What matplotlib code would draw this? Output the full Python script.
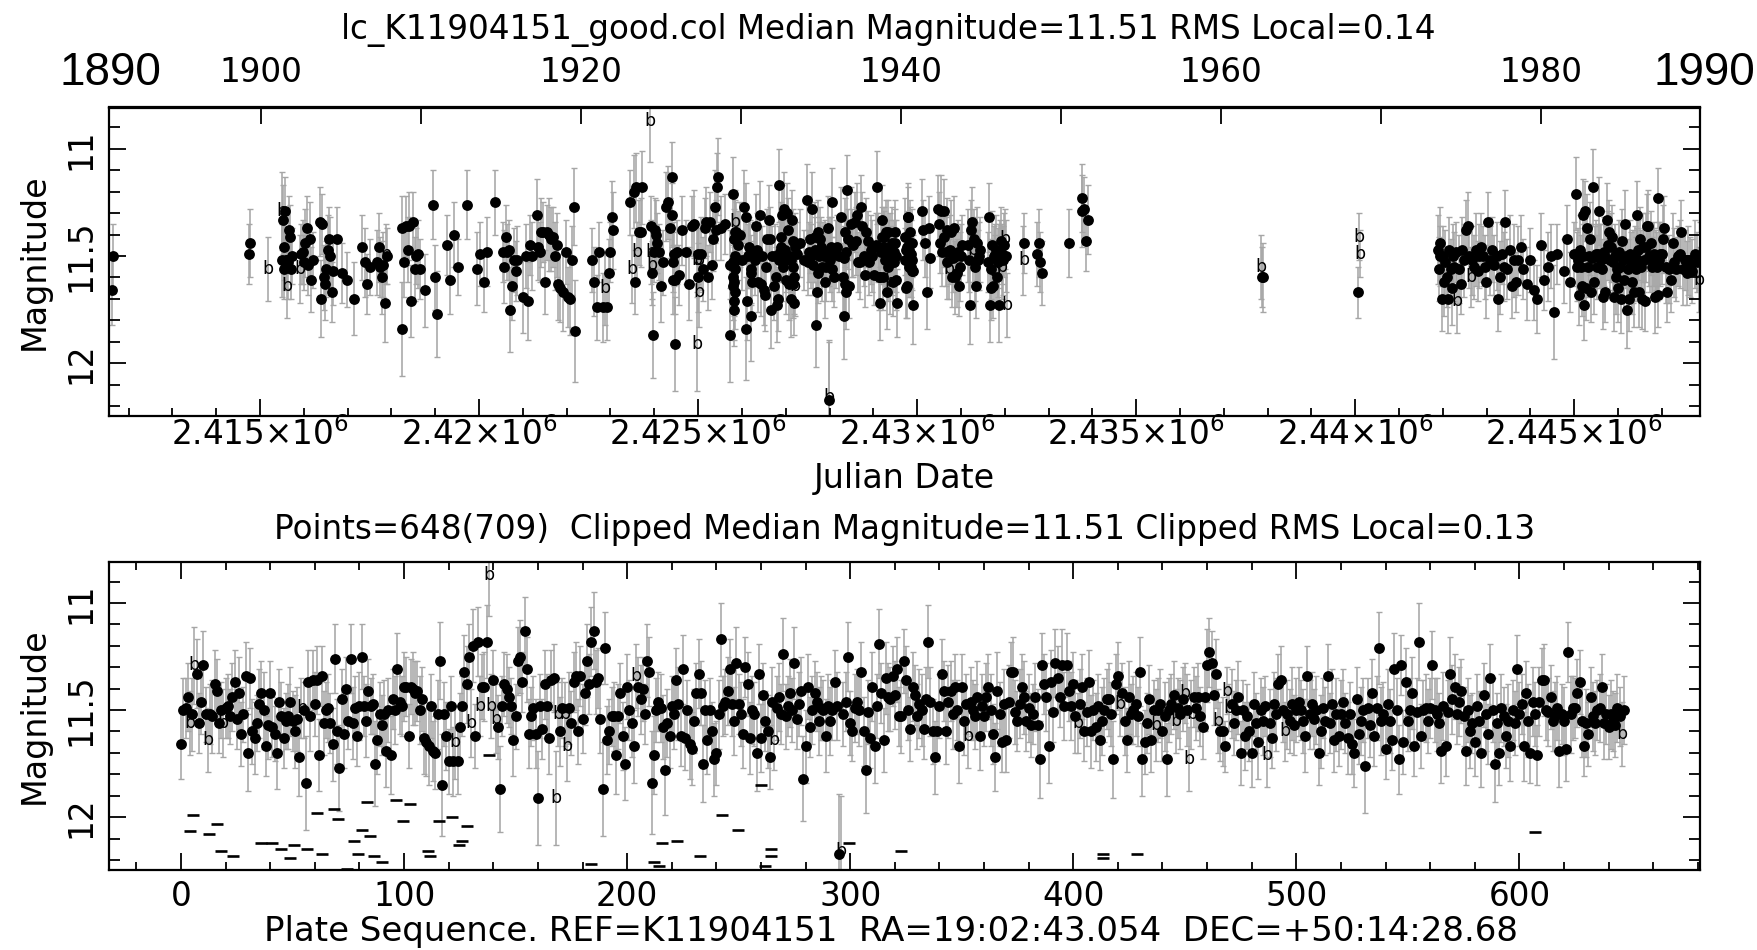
import numpy as np
import matplotlib
matplotlib.use("Agg")
import matplotlib.pyplot as plt
from matplotlib.ticker import FixedLocator, MultipleLocator, FuncFormatter, NullLocator

plt.rcParams['font.family'] = ['DejaVu Sans']

# ---------------- text ----------------
title_top = "lc_K11904151_good.col Median Magnitude=11.51 RMS Local=0.14"
title_bottom = "Points=648(709)  Clipped Median Magnitude=11.51 Clipped RMS Local=0.13"
xlabel_top = "Julian Date"
xlabel_bottom = "Plate Sequence. REF=K11904151  RA=19:02:43.054  DEC=+50:14:28.68"
ylabel = "Magnitude"
edge_years = ["1890", "1990"]
year_ticks = [1900, 1910, 1920, 1930, 1940, 1950, 1960, 1970, 1980]
year_labels = ["1900", "", "1920", "", "1940", "", "1960", "", "1980"]
jd_ticks = [2415000, 2420000, 2425000, 2430000, 2435000, 2440000, 2445000]
seq_ticks = [0, 100, 200, 300, 400, 500, 600]
mag_ticks = [11, 11.5, 12]

# ---------------- data ----------------
# Julian date of each plate minus 2410000 (in plate-sequence order)
jd_offset = [
    1624, 1644, 4758, 4778, 5186,
    5495, 5510, 5525, 5537, 5555, 5570, 5585, 5605, 5620, 5635, 5655, 5675, 5700, 5725,
    5915, 5945, 5975, 6005, 6035, 6065, 6105, 6140, 6175, 6215,
    6372, 6397, 6422, 6452, 6482, 6512, 6542, 6572, 6602, 6632, 6662, 6762, 6862, 6982,
    7136,
    7327, 7392, 7452, 7519,
    7672, 7707, 7742, 7777, 7812, 7852, 7882, 7902,
    8230,
    8247, 8287, 8327, 8367, 8407, 8447, 8487, 8527, 8567, 8607, 8650, 8764,
    8956,
    8997, 9032,
    9262, 9347, 9437, 9530,
    9721,
    9951, 10027, 10107, 10180,
    10371,
    10550, 10575, 10605, 10635, 10675, 10715, 10755, 10795, 10835, 10856, 11009, 11065, 11115, 11165, 11200,
    11315,
    11345, 11385, 11425, 11465, 11505, 11545, 11585, 11635, 11685, 11735, 11773, 11812, 11855, 11915, 11975, 12035, 12085,
    12125, 12156, 12194,
    12568, 12627,
    12683, 12747, 12827, 12874, 12912,
    12957, 12997, 13027, 13065,
    13448, 13487, 13527, 13557, 13577, 13607, 13647, 13687, 13715,
    13907,
    13917, 13927, 13942, 13957, 13977, 13997, 14017, 14037, 14060, 14107, 14157, 14207, 14257, 14307, 14357,
    14393,
    14407, 14422, 14437, 14452, 14462,
    14470,
    14508, 14567, 14637, 14717, 14797, 14867, 14917,
    14967,
    14982, 14997, 15007, 15017,
    15028,
    15067, 15107, 15147, 15187, 15227, 15267, 15307, 15347, 15387, 15417,
    15435, 15447,
    15517, 15617, 15717,
    15732,
    15793,
    15797, 15803, 15806, 15811, 15813, 15818, 15822, 15826, 15829, 15833, 15838, 15840, 15843,
    15847,
    15867, 15907, 15957, 16007, 16047, 16087,
    16099,
    16117, 16137, 16157, 16177, 16197,
    16206,
    16215, 16240, 16268, 16297, 16322, 16347, 16377, 16407, 16437, 16467, 16497, 16527,
    16552, 16577, 16607, 16637, 16667, 16697, 16727, 16757, 16787, 16807, 16827, 16847,
    16854,
    16867, 16882, 16897, 16912, 16927, 16942, 16957, 16977, 16997, 17017, 17037, 17057,
    17077, 17097, 17112, 17127, 17142, 17157, 17167, 17177, 17187, 17197, 17207,
    17213,
    17257, 17327, 17407,
    17481,
    17507, 17532, 17557, 17582, 17607, 17632, 17657, 17677,
    17695,
    17707, 17727, 17747, 17767, 17787, 17807, 17827, 17847, 17867, 17887, 17907, 17927, 17947, 17962, 17977,
    17993, 17997,
    18017, 18037,
    18047,
    18060, 18100, 18140, 18180, 18220, 18260, 18300,
    18330,
    18340, 18350, 18360, 18370, 18380,
    18391,
    18420, 18450, 18480, 18510, 18540, 18570, 18600, 18630, 18660, 18690, 18720,
    18750, 18780, 18810, 18840, 18870, 18900, 18940, 18980, 19020, 19050,
    19080,
    19100, 19130, 19156,
    19162, 19177, 19192, 19207, 19222, 19237, 19252, 19267, 19282, 19297, 19312, 19327, 19342, 19357,
    19372, 19387, 19402, 19417, 19432, 19447, 19462, 19477, 19492, 19502, 19512, 19522, 19530,
    19722, 19732, 19742, 19752, 19762, 19772, 19782, 19792, 19802, 19812,
    19822, 19832, 19842, 19852, 19862, 19872, 19882, 19892, 19902, 19913,
    20104, 20142, 20182, 20222, 20262, 20295,
    20486, 20507, 20532, 20552, 20577, 20602, 20622, 20647, 20672, 20692, 20717, 20742,
    20762, 20787, 20812, 20832, 20857, 20882, 20902, 20927, 20952, 20972, 20997, 21022,
    21164, 21182, 21202, 21227, 21247, 21272, 21292, 21317, 21337, 21362, 21382, 21407, 21432,
    21623, 21642, 21657, 21677, 21692, 21712, 21732, 21747, 21767, 21782, 21802, 21822,
    21837, 21857, 21872, 21892, 21912, 21927, 21947, 21962, 21982, 22002, 22022, 22044,
    22426, 22442,
    22732, 22772, 22802, 22847,
    23458,
    23764,
    23772, 23812, 23862, 23907,
    27853, 27871, 27883,
    30062, 30082, 30102,
    31889, 31905, 31925, 31945, 31970, 31995, 32025, 32055, 32085, 32115,
    32145, 32175, 32205, 32235, 32265, 32295, 32325, 32365, 32405, 32445,
    32485, 32525, 32565, 32605, 32645, 32675, 32715, 32755, 32795, 32835,
    32875, 32915, 32955, 32995, 33035, 33074, 33125, 33175, 33225, 33265,
    33305, 33345, 33385, 33425, 33475, 33525, 33575, 33625, 33675, 33725,
    33785, 33839, 33925, 33992, 34075, 34155, 34235, 34315, 34395, 34475,
    34545, 34603, 34756, 34825, 34905, 34986,
    35049, 35067, 35087, 35107, 35127, 35147, 35167, 35187, 35207, 35227,
    35247, 35267, 35287, 35307, 35332, 35357, 35382, 35407, 35432,
    35452, 35474, 35497, 35517, 35542, 35564, 35587, 35610, 35632, 35654,
    35677, 35700, 35722, 35744, 35767, 35790, 35812, 35834, 35857, 35880,
    35902, 35924, 35947, 35970, 35992, 36014, 36037, 36060, 36082, 36104,
    36127, 36150, 36172, 36194, 36217, 36240, 36262, 36284, 36307, 36330,
    36352, 36374, 36397, 36420, 36442, 36464, 36487, 36510, 36532, 36554,
    36577, 36600, 36622, 36644, 36667, 36690, 36712, 36734, 36757, 36780,
    36800, 36821, 36843, 36866, 36887, 36902, 36917,
    36935, 36965, 36995, 37025, 37055, 37095, 37125, 37165, 37205, 37245,
    37285, 37325, 37365, 37405, 37445, 37485, 37525, 37565, 37605, 37645,
    37695, 37745, 37795, 37835, 37860,
]

magnitude = [
    11.66, 11.50, 11.49, 11.44, 11.56, 11.52, 11.29, 11.33, 11.56, 11.46,
    11.29, 11.52, 11.64, 11.52, 11.53, 11.38, 11.41, 11.56, 11.50, 11.56,
    11.49, 11.48, 11.53, 11.44, 11.37, 11.54, 11.42, 11.61, 11.52, 11.34,
    11.70, 11.35, 11.60, 11.63, 11.56, 11.47, 11.42, 11.50, 11.67, 11.57,
    11.42, 11.58, 11.61, 11.70, 11.46, 11.53, 11.63, 11.55, 11.53, 11.46,
    11.55, 11.60, 11.54, 11.72, 11.49, 11.50, 11.84, 11.37, 11.53, 11.36,
    11.47, 11.36, 11.71, 11.34, 11.56, 11.50, 11.49, 11.56, 11.66, 11.26,
    11.60, 11.77, 11.45, 11.61, 11.40, 11.55, 11.26, 11.56, 11.49, 11.62,
    11.48, 11.25, 11.48, 11.55, 11.41, 11.48, 11.47, 11.75, 11.64, 11.52,
    11.57, 11.52, 11.69, 11.50, 11.71, 11.45, 11.50, 11.31, 11.46, 11.48,
    11.39, 11.39, 11.62, 11.39, 11.40, 11.42, 11.41, 11.50, 11.45, 11.63,
    11.65, 11.67, 11.48, 11.69, 11.70, 11.52, 11.27, 11.85, 11.52, 11.62,
    11.74, 11.48, 11.74, 11.65, 11.74, 11.58, 11.48, 11.32, 11.38, 11.25,
    11.56, 11.20, 11.62, 11.18, 11.48, 11.39, 11.39, 11.18, 10.87, 11.48,
    11.36, 11.54, 11.58, 11.87, 11.48, 11.38, 11.40, 11.44, 11.48, 11.64,
    11.53, 11.27, 11.25, 11.37, 11.13, 11.31, 11.61, 11.53, 11.49, 11.61,
    11.91, 11.48, 11.59, 11.38, 11.48, 11.63, 11.36, 11.35, 11.91, 11.52,
    11.60, 11.49, 11.52, 11.67, 11.49, 11.56, 11.37, 11.34, 11.60, 11.34,
    11.54, 11.42, 11.27, 11.38, 11.18, 11.13, 11.37, 11.35, 11.54, 11.87,
    11.21, 11.64, 11.60, 11.53, 11.53, 11.71, 11.53, 11.42, 11.62, 11.75,
    11.39, 11.50, 11.56, 11.67, 11.34, 11.39, 11.45, 11.40, 11.52, 11.27,
    11.32, 11.84, 11.71, 11.50, 11.46, 11.49, 11.58, 11.78, 11.56, 11.62,
    11.48, 11.52, 11.36, 11.47, 11.62, 11.31, 11.63, 11.50, 11.66, 11.68,
    11.55, 11.42, 11.33, 11.42, 11.75, 11.50, 11.64, 11.50, 11.60, 11.73,
    11.70, 11.52, 11.17, 11.48, 11.46, 11.41, 11.31, 11.47, 11.55, 11.28,
    11.47, 11.52, 11.61, 11.30, 11.38, 11.63, 11.50, 11.52, 11.70, 11.33,
    11.63, 11.43, 11.55, 11.60, 11.72, 11.46, 11.64, 11.49, 11.44, 11.52,
    11.24, 11.53, 11.48, 11.42, 11.50, 11.28, 11.54, 11.47, 11.41, 11.82,
    11.67, 11.39, 11.58, 11.50, 11.42, 11.46, 11.55, 11.49, 11.50, 11.62,
    11.48, 11.55, 11.50, 11.37, 11.48, 12.17, 12.16, 11.52, 11.46, 11.25,
    11.56, 11.60, 11.49, 11.46, 11.50, 11.32, 11.60, 11.78, 11.51, 11.63,
    11.39, 11.67, 11.48, 11.19, 11.42, 11.64, 11.35, 11.44, 11.45, 11.34,
    11.43, 11.31, 11.53, 11.53, 11.27, 11.36, 11.50, 11.59, 11.39, 11.43,
    11.53, 11.47, 11.50, 11.59, 11.45, 11.18, 11.46, 11.60, 11.72, 11.60,
    11.48, 11.33, 11.41, 11.60, 11.46, 11.41, 11.52, 11.39, 11.50, 11.67,
    11.39, 11.55, 11.47, 11.62, 11.46, 11.50, 11.53, 11.44, 11.62, 11.48,
    11.53, 11.44, 11.39, 11.50, 11.61, 11.72, 11.41, 11.52, 11.65, 11.47,
    11.64, 11.46, 11.32, 11.32, 11.51, 11.55, 11.47, 11.39, 11.44, 11.55,
    11.49, 11.57, 11.52, 11.44, 11.57, 11.73, 11.29, 11.38, 11.44, 11.67,
    11.37, 11.51, 11.28, 11.35, 11.44, 11.29, 11.48, 11.29, 11.41, 11.48,
    11.38, 11.53, 11.56, 11.47, 11.39, 11.60, 11.51, 11.37, 11.60, 11.50,
    11.58, 11.48, 11.64, 11.55, 11.50, 11.45, 11.45, 11.52, 11.73, 11.38,
    11.34, 11.47, 11.42, 11.55, 11.64, 11.44, 11.52, 11.50, 11.47, 11.53,
    11.32, 11.73, 11.65, 11.56, 11.45, 11.64, 11.50, 11.57, 11.50, 11.47,
    11.60, 11.53, 11.73, 11.50, 11.47, 11.43, 11.55, 11.49, 11.52, 11.45,
    11.42, 11.50, 11.73, 11.52, 11.44, 11.49, 11.44, 11.53, 11.58, 11.44,
    11.29, 11.23, 11.28, 11.43, 11.33, 11.55, 11.60, 11.60, 11.67, 11.41,
    11.49, 11.47, 11.56, 11.50, 11.44, 11.70, 11.50, 11.62, 11.53, 11.60,
    11.70, 11.47, 11.56, 11.65, 11.50, 11.55, 11.48, 11.71, 11.56, 11.63,
    11.47, 11.52, 11.38, 11.36, 11.50, 11.60, 11.52, 11.55, 11.47, 11.57,
    11.50, 11.46, 11.50, 11.55, 11.62, 11.34, 11.52, 11.47, 11.54, 11.50,
    11.70, 11.60, 11.49, 11.55, 11.34, 11.56, 11.47, 11.64, 11.52, 11.62,
    11.52, 11.46, 11.56, 11.63, 11.52, 11.66, 11.70, 11.45, 11.61, 11.55,
    11.50, 11.76, 11.49, 11.57, 11.42, 11.62, 11.49, 11.21, 11.55, 11.52,
    11.68, 11.47, 11.55, 11.64, 11.31, 11.50, 11.73, 11.29, 11.65, 11.37,
    11.55, 11.50, 11.42, 11.67, 11.51, 11.18, 11.62, 11.50, 11.49, 11.55,
    11.49, 11.29, 11.50, 11.52, 11.56, 11.69, 11.48, 11.67, 11.51, 11.33,
    11.45, 11.39, 11.52, 11.46, 11.41, 11.53, 11.69, 11.50, 11.60, 11.56,
    11.65, 11.48, 11.55, 11.70, 11.43, 11.52, 11.61, 11.35, 11.50, 11.75,
    11.56, 11.70, 11.49, 11.53, 11.62, 11.55, 11.67, 11.50, 11.56, 11.31,
    11.52, 11.47, 11.67, 11.42, 11.55, 11.70, 11.46, 11.52, 11.71, 11.46,
    11.36, 11.36, 11.50, 11.51, 11.44, 11.55, 11.53, 11.49, 11.69, 11.52,
    11.55, 11.68, 11.23, 11.52, 11.49, 11.49, 11.42, 11.37, 11.55, 11.67,
    11.56, 11.61, 11.44, 11.53, 11.56, 11.50, 11.49, 11.39, 11.56, 11.52,
    11.58, 11.52, 11.55, 11.57, 11.49, 11.53, 11.61, 11.50,
]

# magnitude errors in hundredths of a magnitude
err_centi = [
    16, 15, 14, 16, 15, 17, 18, 16, 14, 15, 16, 13, 15, 14, 17, 16, 15, 14, 13, 16,
    14, 15, 13, 16, 15, 14, 17, 15, 13, 16, 18, 14, 15, 17, 13, 16, 15, 18, 14, 16,
    15, 14, 13, 17, 15, 16, 14, 13, 15, 16, 14, 17, 15, 18, 14, 13, 22, 15, 16, 14,
    15, 16, 17, 14, 15, 13, 16, 14, 17, 16, 15, 20, 14, 16, 15, 13, 16, 17, 15, 14,
    16, 15, 14, 17, 15, 13, 14, 20, 16, 15, 14, 16, 17, 15, 18, 14, 16, 17, 15, 14,
    16, 14, 15, 13, 17, 15, 14, 16, 15, 17, 16, 18, 15, 14, 17, 16, 18, 24, 15, 16,
    15, 14, 16, 17, 15, 16, 14, 17, 18, 15, 16, 17, 15, 16, 14, 15, 16, 17, 19, 15,
    14, 16, 15, 20, 14, 15, 16, 14, 13, 17, 15, 16, 17, 14, 16, 15, 16, 14, 15, 16,
    22, 15, 14, 16, 15, 17, 14, 16, 22, 15, 16, 14, 15, 16, 17, 15, 14, 16, 15, 14,
    16, 15, 17, 14, 16, 18, 15, 14, 16, 22, 17, 16, 15, 14, 16, 18, 15, 14, 16, 17,
    15, 14, 16, 17, 15, 14, 16, 15, 14, 17, 16, 24, 18, 15, 14, 16, 15, 21, 16, 15,
    14, 16, 15, 17, 14, 16, 15, 14, 16, 17, 15, 14, 16, 15, 18, 14, 16, 15, 14, 17,
    15, 16, 17, 14, 15, 16, 14, 15, 16, 17, 14, 15, 16, 14, 15, 17, 16, 15, 18, 14,
    16, 15, 14, 17, 15, 16, 14, 15, 16, 14, 17, 15, 14, 16, 15, 17, 14, 15, 16, 20,
    17, 15, 14, 16, 15, 14, 16, 15, 14, 17, 15, 16, 14, 15, 16, 28, 26, 15, 14, 16,
    15, 14, 16, 15, 17, 14, 16, 20, 15, 14, 16, 17, 15, 16, 14, 15, 17, 16, 15, 14,
    16, 15, 14, 17, 15, 16, 14, 15, 16, 14, 15, 16, 17, 14, 15, 17, 16, 15, 17, 14,
    15, 16, 14, 15, 17, 14, 16, 15, 14, 17, 15, 16, 14, 15, 16, 14, 15, 17, 16, 15,
    14, 16, 15, 17, 14, 16, 18, 15, 14, 16, 15, 17, 14, 16, 15, 14, 16, 15, 17, 14,
    16, 15, 14, 16, 17, 18, 15, 14, 16, 17, 15, 14, 16, 15, 14, 17, 16, 15, 14, 16,
    15, 17, 14, 16, 15, 14, 16, 15, 17, 14, 16, 15, 14, 16, 15, 14, 17, 15, 18, 14,
    16, 15, 14, 16, 15, 17, 14, 16, 15, 14, 16, 17, 15, 14, 16, 15, 14, 17, 15, 16,
    14, 16, 17, 15, 14, 16, 15, 14, 16, 15, 14, 17, 15, 16, 14, 15, 16, 14, 15, 16,
    17, 16, 15, 14, 16, 15, 14, 16, 12, 11, 11, 16, 15, 14, 17, 15, 14, 16, 15, 14,
    16, 15, 14, 17, 15, 16, 14, 15, 16, 14, 15, 17, 14, 16, 15, 14, 16, 15, 17, 14,
    15, 16, 14, 15, 17, 14, 16, 15, 14, 16, 15, 17, 14, 16, 15, 14, 16, 15, 17, 14,
    16, 15, 14, 17, 15, 14, 16, 15, 14, 16, 15, 22, 14, 15, 16, 14, 15, 17, 16, 15,
    14, 16, 15, 14, 17, 15, 16, 14, 15, 16, 14, 15, 17, 14, 16, 18, 15, 14, 16, 15,
    14, 16, 15, 17, 14, 15, 16, 14, 15, 17, 16, 15, 14, 16, 15, 14, 16, 15, 17, 14,
    16, 15, 14, 16, 15, 17, 14, 16, 15, 18, 14, 15, 16, 14, 15, 17, 16, 14, 15, 16,
    15, 14, 16, 15, 17, 14, 16, 15, 14, 16, 15, 17, 14, 16, 15, 14, 16, 15, 17, 14,
    16, 15, 14, 18, 15, 14, 16, 15, 17, 14, 16, 15, 14, 16, 15, 14, 16, 15, 17, 14,
    15, 16, 14, 15, 16, 14, 15, 16,
]

# plates flagged "b" (drawn as the letter b instead of a dot)
b_points = [4, 6, 12, 19, 54, 123, 130, 134, 138, 139, 141, 168, 169, 172, 173, 204,
            266, 296, 353, 402, 421, 437, 446, 450, 452, 453, 465, 469, 470, 487, 495, 646]

# rejected plates (short dashes) in the plate-sequence panel
dash_seq = [4, 5.5, 12.5, 16, 18, 23.5, 36, 41, 45, 49,
            50.5, 56.5, 61, 63, 68.5, 70.5, 74.5, 77.5, 79.5, 81,
            83.5, 84.5, 86.5, 90, 96.5, 99.5, 102.5, 110.5, 111.5, 115.5,
            121.5, 124.5, 126, 128, 138, 184, 212, 214.5, 215.5, 222.5,
            232.5, 242.5, 249.5, 260, 262, 264.5, 264.5, 299.5, 323, 413.5,
            413.5, 428.5, 607]
dash_mag = [12.065, 11.99, 12.08, 12.03, 12.16, 12.18, 12.12, 12.12, 12.15, 12.19,
            12.13, 12.15, 11.98, 12.17, 11.96, 12.01, 12.24, 12.11, 12.17, 12.06,
            11.93, 12.09, 12.18, 12.21, 11.92, 12.02, 11.94, 12.16, 12.18, 12.02,
            12.00, 12.13, 12.11, 12.04, 11.71, 12.22, 12.21, 12.23, 12.12, 12.11,
            12.18, 11.99, 12.06, 11.85, 12.23, 12.15, 12.18, 12.12, 12.16, 12.17,
            12.19, 12.17, 12.07]

n = len(magnitude)
assert len(jd_offset) == n, ("jd", len(jd_offset), n)
assert len(err_centi) == n, ("err", len(err_centi), n)

jd = 2410000.0 + np.array(jd_offset, float)
mag = np.array(magnitude, float)
err = np.array(err_centi, float) / 100.0
seq = np.arange(n)
isb = np.zeros(n, bool)
isb[b_points] = True

# ---------------- figure ----------------
W, H = 1758, 950
fig = plt.figure(figsize=(W / 100, H / 100), dpi=100)
L, R = 109, 1700
ax1 = fig.add_axes([L / W, 1 - 416 / H, (R - L) / W, (416 - 107.5) / H])
ax2 = fig.add_axes([L / W, 1 - 870 / H, (R - L) / W, (870 - 561.7) / H])

ERRC = '#a6a6a6'


def draw(ax, x):
    ax.errorbar(x, mag, yerr=err, fmt='none', ecolor=ERRC, elinewidth=1.15,
                capsize=2.3, capthick=1.0, zorder=1)
    ax.plot(x[~isb], mag[~isb], 'o', color='black', ms=7.8, mew=0, zorder=3)
    for xi, yi in zip(x[isb], mag[isb]):
        ax.text(xi, yi, 'b', ha='center', va='center', fontsize=12.5,
                color='black', zorder=4)


draw(ax1, jd)
draw(ax2, seq.astype(float))
ax2.plot(dash_seq, dash_mag, '_', color='black', ms=8.5, mew=1.9, zorder=3)

TICKFS = 23.5
ylim = (12.247, 10.807)
for ax in (ax1, ax2):
    ax.set_ylim(*ylim)
    ax.yaxis.set_major_locator(FixedLocator(mag_ticks))
    ax.yaxis.set_minor_locator(MultipleLocator(0.1))
    ax.yaxis.set_major_formatter(FuncFormatter(lambda v, p: ('%g' % v)))
    for s in ax.spines.values():
        s.set_linewidth(1.6)
    ax.tick_params(axis='y', which='major', direction='in', length=12.5, width=1.3,
                   left=True, right=True, labelsize=TICKFS, pad=8)
    ax.tick_params(axis='y', which='minor', direction='in', length=8, width=1.3,
                   left=True, right=True)
    for lab in ax.get_yticklabels():
        lab.set_rotation(90)
        lab.set_va('center')

# top panel: Julian date axis
ax1.set_xlim(2411553, 2447869)
ax1.xaxis.set_major_locator(FixedLocator(jd_ticks))
ax1.xaxis.set_minor_locator(MultipleLocator(1000))


def jdfmt(v, p):
    s = ('%.3f' % (v / 1e6)).rstrip('0')
    return r'$\mathregular{%s{\times}10^{6}}$' % s


ax1.xaxis.set_major_formatter(FuncFormatter(jdfmt))
ax1.tick_params(axis='x', which='major', direction='in', length=12.5, width=1.3,
                top=False, bottom=True, labelsize=TICKFS, pad=1.0)
ax1.tick_params(axis='x', which='minor', direction='in', length=6, width=1.3,
                top=False, bottom=True)


def jd2yr(x):
    return (np.asarray(x, float) - 2415020.5) / 365.25 + 1900.0


def yr2jd(y):
    return (np.asarray(y, float) - 1900.0) * 365.25 + 2415020.5


sec = ax1.secondary_xaxis('top', functions=(jd2yr, yr2jd))
sec.xaxis.set_major_locator(FixedLocator(year_ticks))
sec.xaxis.set_minor_locator(NullLocator())
sec.set_xticklabels(year_labels)
sec.tick_params(axis='x', direction='in', length=12.5, width=1.3, labelsize=TICKFS, pad=13)
sec.spines['top'].set_linewidth(1.6)

# bottom panel: plate sequence axis
ax2.set_xlim(-32.3, 681.0)
ax2.xaxis.set_major_locator(FixedLocator(seq_ticks))
ax2.xaxis.set_minor_locator(MultipleLocator(20))
ax2.tick_params(axis='x', which='major', direction='in', length=12.5, width=1.3,
                top=True, bottom=True, labelsize=TICKFS, pad=7)
ax2.tick_params(axis='x', which='minor', direction='in', length=6, width=1.3,
                top=True, bottom=True)

# texts
fig.text(888 / W, 1 - 30 / H, title_top, ha='center', va='center', fontsize=23.5)
fig.text(905 / W, 1 - 530 / H, title_bottom, ha='center', va='center', fontsize=23.5)
fig.text(904 / W, 1 - 479 / H, xlabel_top, ha='center', va='center', fontsize=24)
fig.text(891 / W, 1 - 931 / H, xlabel_bottom, ha='center', va='center', fontsize=24.5)
fig.text(34 / W, 1 - 262 / H, ylabel, ha='center', va='center', rotation=90, fontsize=24)
fig.text(34 / W, 1 - 716 / H, ylabel, ha='center', va='center', rotation=90, fontsize=24)
fig.text(110 / W, 1 - 73 / H, edge_years[0], ha='center', va='center', fontsize=33,
         family=['Liberation Sans', 'DejaVu Sans'])
fig.text(1704 / W, 1 - 73 / H, edge_years[1], ha='center', va='center', fontsize=33,
         family=['Liberation Sans', 'DejaVu Sans'])

fig.savefig('out.png', dpi=100)
